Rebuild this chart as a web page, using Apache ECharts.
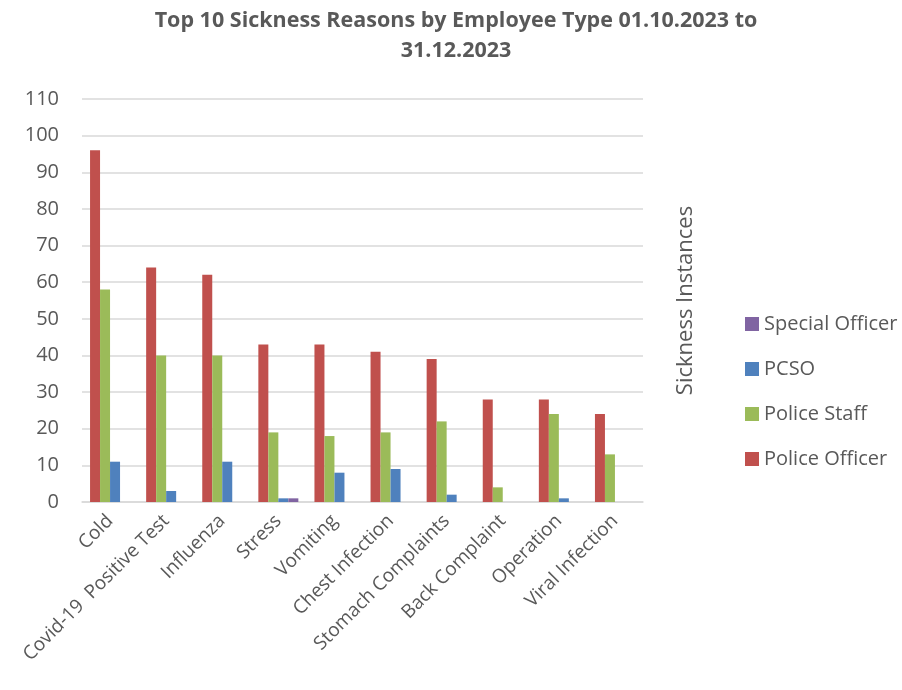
<!DOCTYPE html>
<html>
<head>
<meta charset="utf-8">
<script src="https://cdn.jsdelivr.net/npm/echarts@6/dist/echarts.min.js"></script>
<style>html,body{margin:0;padding:0;background:#fff;}#c{width:902px;height:690px;}</style>
</head>
<body>
<div id="c"></div>
<script>
var categories = ['Cold','Covid-19  Positive Test','Influenza','Stress','Vomiting','Chest Infection','Stomach Complaints','Back Complaint','Operation','Viral Infection'];
var policeOfficer = [96, 64, 62, 43, 43, 41, 39, 28, 28, 24];
var policeStaff   = [58, 40, 40, 19, 18, 19, 22, 4, 24, 13];
var pcso          = [11, 3, 11, 1, 8, 9, 2, 0, 1, 0];
var specialOfficer= [0, 0, 0, 1, 0, 0, 0, 0, 0, 0];
var yTicks = [0,10,20,30,40,50,60,70,80,90,100,110];

var FONT = 'Open Sans';
var chart = echarts.init(document.getElementById('c'));
function bar(name, data, color){
  return {name:name, type:'bar', data:data, barWidth:10, barGap:'0%', itemStyle:{color:color}, yAxisIndex:0};
}
chart.setOption({
  animation:false,
  textStyle:{fontFamily:FONT},
  title:{
    text:'Top 10 Sickness Reasons by Employee Type 01.10.2023 to\n31.12.2023',
    left:451, top:1, textAlign:'center',
    textStyle:{fontFamily:FONT, fontWeight:'bold', fontSize:21.5, color:'#595959', lineHeight:30}
  },
  legend:{
    orient:'vertical', left:740, top:309, itemGap:25, itemWidth:14, itemHeight:14, icon:'rect',
    data:['Special Officer','PCSO','Police Staff','Police Officer'],
    textStyle:{fontFamily:FONT, fontSize:20, color:'#595959'}
  },
  grid:{left:82, right:259, top:99, bottom:188, containLabel:false},
  xAxis:{
    type:'category', data:categories,
    axisLine:{lineStyle:{color:'#D9D9D9', width:1.5}},
    axisTick:{show:false},
    axisLabel:{rotate:45, interval:0, fontSize:19, color:'#595959', fontFamily:FONT, margin:16}
  },
  yAxis:[{
    type:'value', min:yTicks[0], max:yTicks[yTicks.length-1], interval:10, position:'left',
    axisLine:{show:false}, axisTick:{show:false},
    axisLabel:{fontSize:20, color:'#595959', fontFamily:FONT, margin:23},
    splitLine:{lineStyle:{color:'#D9D9D9', width:1.5}}
  },{
    type:'value', min:0, max:110, interval:10, position:'right',
    name:'Sickness Instances', nameLocation:'middle', nameRotate:90, nameGap:32,
    nameTextStyle:{fontSize:22, color:'#595959', fontFamily:FONT},
    axisLine:{show:false}, axisTick:{show:false}, axisLabel:{show:false}, splitLine:{show:false}
  }],
  series:[
    bar('Police Officer', policeOfficer, '#C0504D'),
    bar('Police Staff', policeStaff, '#9BBB59'),
    bar('PCSO', pcso, '#4F81BD'),
    bar('Special Officer', specialOfficer, '#8064A2')
  ]
});
</script>
</body>
</html>
